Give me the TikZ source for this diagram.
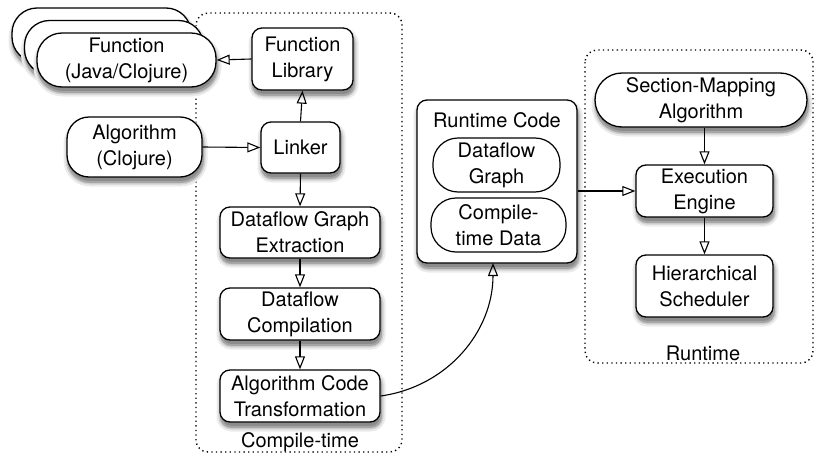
\documentclass[tikz,border=0pt]{standalone}
\usepackage{fontspec}
\setmainfont{TeX Gyre Heros}
\usetikzlibrary{arrows.meta}
\tikzset{
  sh1/.style={draw=black!8,line width=9pt},
  sh2/.style={draw=black!18,line width=5pt},
  sh3/.style={draw=black!35,fill=black!45,line width=2pt},
  box/.style={draw,line width=1.3pt,fill=white,align=center,inner sep=0pt},
  inpill/.style={draw,line width=1.2pt,fill=white,rounded corners=25pt,align=center,inner sep=0pt},
  group/.style={draw,line width=1.4pt,dash pattern=on 1.3pt off 3.3pt,rounded corners=12pt},
  arr/.style={line width=1.1pt,-{Triangle[open,length=13pt,width=10pt,line width=1.1pt]}},
  lbl/.style={inner sep=0pt,align=center}
}
% name, x, y, width, height, corner radius, text
\newcommand{\shbox}[7]{%
  \path[sh1,rounded corners=#6pt] ({#2-#4/2+1},{#3-#5/2+5}) rectangle ({#2+#4/2+1},{#3+#5/2+5});
  \path[sh2,rounded corners=#6pt] ({#2-#4/2+1},{#3-#5/2+5}) rectangle ({#2+#4/2+1},{#3+#5/2+5});
  \path[sh3,rounded corners=#6pt] ({#2-#4/2+1},{#3-#5/2+5}) rectangle ({#2+#4/2+1},{#3+#5/2+5});
  \node[box,rounded corners=#6pt,minimum width=#4pt,minimum height=#5pt] (#1) at (#2,#3) {#7};}
\begin{document}
\begin{tikzpicture}[x=1pt,y=-1pt,font=\fontsize{20}{26}\selectfont]
\useasboundingbox (0,0) rectangle (815,461);
% groups
\draw[group] (196,13) rectangle (402,452);
\node[lbl] (ctlbl) at (300,442) {Compile-time};
\draw[group] (585,50) rectangle (813,363);
\node[lbl] (rtlbl) at (703,353) {Runtime};
% function stack
\shbox{fn3}{101.5}{35}{179}{54}{25}{}
\shbox{fn2}{114}{47.5}{179}{54}{25}{}
\shbox{fn}{126.5}{60}{179}{54}{25}{Function\\(Java/Clojure)}
\shbox{alg}{134.5}{147}{135}{60}{22}{Algorithm\\(Clojure)}
% compile-time
\shbox{fl}{302.5}{59}{101}{62}{10}{Function\\Library}
\shbox{lk}{300.5}{147.5}{79}{51}{10}{Linker}
\shbox{dge}{300}{232.5}{160}{51}{10}{Dataflow Graph\\Extraction}
\shbox{dc}{300}{314}{160}{52}{10}{Dataflow\\Compilation}
\shbox{act}{300}{396}{160}{52}{10}{Algorithm Code\\Transformation}
% runtime code
\shbox{rc}{497}{181.5}{160}{163}{10}{}
\node[lbl] (rct) at (497,120) {Runtime Code};
\node[inpill,minimum width=127pt,minimum height=54pt] (dg) at (496.5,165) {Dataflow\\Graph};
\node[inpill,minimum width=135pt,minimum height=54pt] (ctd) at (498.5,225) {Compile-\\time Data};
% runtime
\shbox{sma}{701}{100}{212}{54}{27}{Section-Mapping\\Algorithm}
\shbox{ee}{704.5}{191}{137}{52}{10}{Execution\\Engine}
\shbox{hs}{704.5}{286}{137}{62}{10}{Hierarchical\\Scheduler}
% connectors
\draw[arr] (fl.west) -- (fn.east);
\draw[arr] (lk.north) -- (fl.south);
\draw[arr] (alg.east) -- (lk.west);
\draw[arr] (lk.south) -- (dge.north);
\draw[arr] (dge.south) -- (dc.north);
\draw[arr] (dc.south) -- (act.north);
\coordinate (rcin) at (493,263);
\draw[arr] (act.east) to[out=8,in=-90] (rcin);
\draw[arr] (rc.east |- ee.west) -- (ee.west);
\draw[arr] (sma.south -| ee.north) -- (ee.north);
\draw[arr] (ee.south) -- (hs.north);
\end{tikzpicture}
\end{document}
